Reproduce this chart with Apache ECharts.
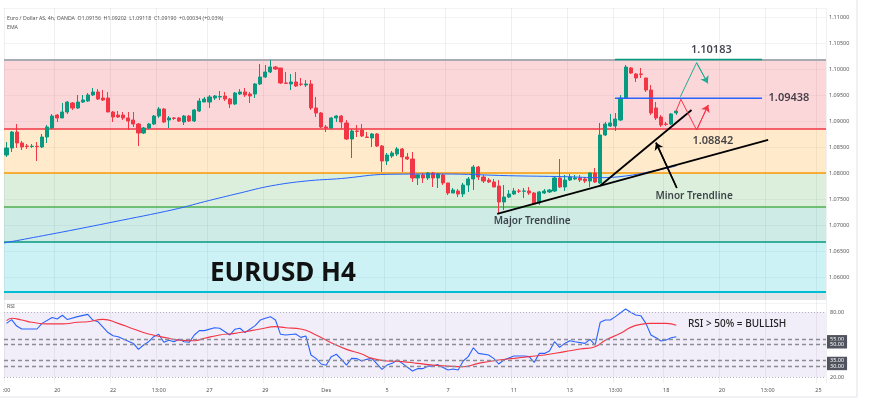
<!DOCTYPE html>
<html><head><meta charset="utf-8">
<script src="https://cdn.jsdelivr.net/npm/echarts@6/dist/echarts.min.js"></script>
<style>html,body{margin:0;padding:0;background:#fff}#c{width:870px;height:414px}</style>
</head><body><div id="c"></div>
<script>
// ---------- DATA ----------
const SLOTS = 162; // candle slots across the time axis (incl. future space)
const tickLabels = [[0,':00'],[10,'20'],[21,'22'],[30,'13:00'],[40,'27'],[51,'29'],[63,'Des'],[75,'5'],[87,'7'],[100,'11'],[111,'13'],[120,'13:00'],[130,'18'],[141,'20'],[150,'13:00'],[160,'25']];
// [open, close, low, high]
const candles = [
[1.08346,1.08481,1.08308,1.08596],[1.08481,1.08788,1.08404,1.08808],[1.08788,1.08577,1.08481,1.08942],[1.08577,1.08500,1.08442,1.08615],
[1.08519,1.08510,1.08462,1.08558],[1.08510,1.08515,1.08481,1.08558],[1.08515,1.08505,1.08231,1.08596],[1.08500,1.08692,1.08481,1.08750],
[1.08692,1.08885,1.08577,1.08923],[1.08865,1.09096,1.08846,1.09135],[1.09115,1.09058,1.08981,1.09135],[1.09058,1.09173,1.09058,1.09346],
[1.09173,1.09365,1.09135,1.09385],[1.09346,1.09250,1.09212,1.09365],[1.09250,1.09365,1.09231,1.09500],[1.09365,1.09404,1.09346,1.09500],
[1.09385,1.09500,1.09365,1.09538],[1.09500,1.09558,1.09481,1.09635],[1.09558,1.09423,1.09404,1.09615],[1.09442,1.09404,1.09385,1.09596],
[1.09442,1.09173,1.09173,1.09558],[1.09173,1.09077,1.08981,1.09192],[1.09115,1.09077,1.09058,1.09192],[1.09115,1.09058,1.09019,1.09173],
[1.09058,1.09000,1.08827,1.09173],[1.09019,1.08942,1.08885,1.09173],[1.08942,1.08769,1.08519,1.08962],[1.08769,1.08865,1.08750,1.08885],
[1.08865,1.08942,1.08846,1.08962],[1.08942,1.09096,1.08923,1.09115],[1.09096,1.09231,1.09058,1.09269],[1.09231,1.08981,1.08962,1.09250],
[1.09019,1.09058,1.08865,1.09096],[1.09058,1.09050,1.09019,1.09077],[1.09058,1.09000,1.08981,1.09077],[1.08981,1.09096,1.08923,1.09115],
[1.09096,1.09000,1.08981,1.09115],[1.09000,1.09212,1.08981,1.09231],[1.09192,1.09385,1.09173,1.09442],[1.09365,1.09423,1.09365,1.09462],
[1.09365,1.09462,1.09250,1.09500],[1.09442,1.09481,1.09404,1.09500],[1.09462,1.09470,1.09404,1.09577],[1.09481,1.09423,1.09385,1.09558],
[1.09423,1.09327,1.09250,1.09442],[1.09327,1.09538,1.09308,1.09558],[1.09519,1.09558,1.09500,1.09615],[1.09558,1.09500,1.09462,1.09635],
[1.09519,1.09481,1.09346,1.09558],[1.09519,1.09712,1.09442,1.09731],[1.09712,1.09846,1.09692,1.10096],[1.09846,1.09942,1.09827,1.10077],
[1.09942,1.10038,1.09923,1.10173],[1.10038,1.10000,1.09981,1.10058],[1.10019,1.09731,1.09712,1.10019],[1.09731,1.09725,1.09712,1.09942],
[1.09712,1.09750,1.09596,1.09904],[1.09750,1.09673,1.09654,1.09942],[1.09712,1.09705,1.09673,1.09827],[1.09692,1.09712,1.09654,1.09788],
[1.09712,1.09250,1.09212,1.09788],[1.09250,1.09154,1.09077,1.09462],[1.09154,1.08885,1.08865,1.09173],[1.08885,1.08865,1.08788,1.08923],
[1.08865,1.09058,1.08846,1.09077],[1.09058,1.09096,1.08981,1.09115],[1.09096,1.08981,1.08846,1.09115],[1.08962,1.08654,1.08635,1.09019],
[1.08654,1.08808,1.08288,1.08846],[1.08808,1.08800,1.08692,1.08923],[1.08827,1.08712,1.08692,1.08942],[1.08692,1.08685,1.08673,1.08788],
[1.08673,1.08750,1.08500,1.08769],[1.08750,1.08519,1.08500,1.08769],[1.08519,1.08231,1.08019,1.08538],[1.08231,1.08346,1.08154,1.08385],
[1.08327,1.08385,1.08288,1.08423],[1.08365,1.08462,1.08327,1.08500],[1.08462,1.08308,1.08019,1.08481],[1.08308,1.08269,1.08250,1.08385],
[1.08269,1.07904,1.07827,1.08404],[1.07904,1.07962,1.07769,1.07981],[1.07962,1.07904,1.07808,1.08000],[1.07904,1.08000,1.07865,1.08019],
[1.08000,1.07904,1.07731,1.08019],[1.07904,1.07981,1.07712,1.08000],[1.07962,1.07808,1.07769,1.07981],[1.07808,1.07615,1.07577,1.07808],
[1.07615,1.07673,1.07615,1.07712],[1.07654,1.07596,1.07538,1.07692],[1.07596,1.07769,1.07538,1.07808],[1.07769,1.07885,1.07635,1.07923],
[1.07885,1.08115,1.07673,1.08154],[1.08115,1.07923,1.07865,1.08135],[1.07923,1.07846,1.07808,1.07962],[1.07865,1.07827,1.07808,1.07904],
[1.07827,1.07731,1.07731,1.07885],[1.07750,1.07442,1.07231,1.07865],[1.07442,1.07538,1.07288,1.07769],[1.07538,1.07596,1.07519,1.07673],
[1.07596,1.07654,1.07577,1.07712],[1.07654,1.07650,1.07615,1.07692],[1.07650,1.07654,1.07519,1.07712],[1.07654,1.07615,1.07577,1.07731],
[1.07615,1.07404,1.07385,1.07635],[1.07423,1.07635,1.07385,1.07654],[1.07615,1.07654,1.07596,1.07692],[1.07635,1.07673,1.07615,1.07692],
[1.07654,1.07904,1.07635,1.07923],[1.07904,1.07731,1.07712,1.08269],[1.07731,1.07865,1.07654,1.07962],[1.07865,1.07923,1.07846,1.07981],
[1.07885,1.07904,1.07865,1.07962],[1.07904,1.07865,1.07827,1.07962],[1.07885,1.07846,1.07808,1.07923],[1.07846,1.08000,1.07731,1.08019],
[1.08000,1.07827,1.07808,1.08096],[1.07808,1.08731,1.07788,1.08962],[1.08731,1.08942,1.08712,1.08981],[1.08904,1.08962,1.08885,1.09135],
[1.08904,1.09038,1.08808,1.09154],[1.09019,1.09442,1.09000,1.09500],[1.09442,1.10038,1.09423,1.10077],[1.10019,1.09923,1.09904,1.10038],
[1.09904,1.09827,1.09750,1.09923],[1.09904,1.09897,1.09827,1.10019],[1.09827,1.09596,1.09558,1.09827],[1.09596,1.09154,1.09115,1.09692],
[1.09250,1.09058,1.09019,1.09365],[1.09077,1.08923,1.08885,1.09115],[1.08942,1.08935,1.08904,1.08981],[1.08942,1.09135,1.08923,1.09154],
[1.09156,1.09190,1.09118,1.09202]
];
const emaPoints = [[-0.5,1.06654],[11,1.06865],[21,1.07058],[33,1.07298],[39,1.07448],[46,1.07615],[52,1.07750],[59,1.07846],[66,1.07894],[75,1.07975],[86,1.07981],[99,1.07948],[110,1.07929],[117,1.07910],[122,1.07942],[127,1.08029],[132,1.08135]];
const rsiPoints = [[0,69.5],[1,73],[2,67],[3,64.3],[6,64.3],[7,69.5],[9,75],[10,73.5],[11,77],[12,73],[14,75.7],[16,77.8],[17,72.6],[18,71],[20,61],[21,58],[22,57.2],[23,55],[25,51],[26,45.5],[27,49.5],[28,52.6],[29,57.2],[30,59.4],[31,52],[32,54],[33,52.6],[34,54.8],[35,52.6],[36,52],[37,58.8],[38,62.8],[39,62.8],[41,65.5],[42,65],[44,58.8],[45,64],[46,65],[47,61],[49,67.4],[50,72.6],[51,74.2],[52,75.7],[53,72.6],[54,59.4],[55,58.8],[57,59.7],[58,56.6],[59,57.8],[60,40.3],[61,37.2],[62,32],[63,30.8],[64,38.8],[65,41],[66,36.3],[67,31],[68,37.2],[69,37],[70,34.8],[71,36.3],[72,37.2],[74,27],[75,31],[76,32.6],[77,35.7],[78,32.6],[80,25.5],[81,27.7],[82,27.7],[83,30],[84,30],[85,31.4],[87,26.5],[88,27.4],[89,26.5],[90,34.8],[91,38.8],[92,47],[93,41.8],[95,40.3],[96,37.2],[97,32],[98,35.7],[100,39.4],[102,39.4],[103,38.8],[104,33.5],[105,41.8],[106,41.8],[107,44],[108,52.6],[109,47.4],[110,51],[111,53.5],[112,52.6],[114,51],[115,54.8],[116,49.5],[117,70.5],[118,72.6],[119,72.6],[120,75.7],[122,82.8],[123,79.7],[124,77.2],[125,76.6],[126,69.5],[127,58.8],[128,56.3],[129,53.2],[130,54.2],[131,56.3],[132,57.2]];
const rsiMaPoints = [[0,72],[1,74.2],[3,72.6],[5,70.5],[8,69],[11,69],[14,70.5],[16,71],[19,73.2],[22,69.5],[25,64.3],[28,59.7],[32,55.7],[34,54],[37,53.5],[39,55.7],[42,58.8],[45,60.3],[47,61.8],[50,64.3],[53,66.5],[55,65.5],[58,64.3],[61,58.8],[64,51.7],[67,45.5],[70,41.2],[72,37.2],[75,34.8],[78,34.2],[81,32.6],[84,31],[87,30],[90,29.5],[93,32.6],[97,35.7],[100,37.2],[103,38.8],[106,40.3],[110,43.4],[113,45.8],[116,48],[118,54],[121,60.3],[123,65.8],[125,68.6],[127,69.5],[130,69.5],[132,67.7]];
const fibLevels = [1.10183, 1.08842, 1.08012, 1.07342, 1.06671, 1.05717, 1.0556];
const targetLevels = [[1.10183, 119.9, 148.9, '#089981'], [1.09438, 119.9, 148.9, '#2962ff']];
const majorTrend = [[96.7, 1.07212], [150.1, 1.08635]];
const minorTrend = [[117.0, 1.07756], [135.0, 1.09212]];
const minorPointer = [[132.1, 1.07712], [128.0, 1.08583]];
const bullPath = [[132.8, 1.09467], [136.0, 1.10121], [138.2, 1.09725]];
const bearPath = [[131.9, 1.09179], [132.9, 1.09417], [136.0, 1.08827], [138.3, 1.09308]];
const annotationTexts = [['1.10183', 138.9, 1.10365, 11], ['1.09438', 154.2, 1.09438, 11], ['1.08842', 139.2, 1.08615, 11], ['Major Trendline', 103.6, 1.07077, 10], ['Minor Trendline', 135.5, 1.07558, 10]];
const rsiLevels = [[80,'dotted',false],[60,'none',false],[40,'none',false],[20,'dotted',false],[55,'dash',true],[50,'dash',true],[35,'dash',true],[30,'dash',true]];
const lastPrice = 1.09190, countdown = '03:01:53';
const header = 'Euro / Dollar AS, 4h, OANDA  O1.09156  H1.09202  L1.09118  C1.09190  +0.00034 (+0.03%)';

// ---------- CHART ----------
const FONT = 'Noto Sans, sans-serif';
const labelMap = {}; tickLabels.forEach(([i, t]) => labelMap[i] = t);
const slots = Array.from({length: SLOTS}, (_, i) => String(i));
const showTick = (idx) => labelMap[idx] !== undefined;
const fibLineColors = ['#a9abb2', '#f23645', '#ff9800', '#4caf50', '#089981', '#00bcd4'];
const fibLineWidths = [2, 1.5, 1.5, 1.5, 1.5, 2];
const bandColors = ['rgba(242,54,69,0.2)', 'rgba(255,152,0,0.2)', 'rgba(76,175,80,0.2)', 'rgba(8,153,129,0.2)', 'rgba(0,188,212,0.2)', 'rgba(120,123,134,0.2)'];
const vGrid = {show: true, interval: showTick, lineStyle: {color: 'rgba(42,46,57,0.07)', width: 1}};

function segSeries(points, color, width, arrow) {
  const s = {type: 'line', xAxisIndex: 1, yAxisIndex: 0, data: points, symbol: 'none', z: 6,
    lineStyle: {color, width}, silent: true};
  if (arrow) {
    const a = points[points.length - 2], b = points[points.length - 1];
    s.markLine = {silent: true, precision: 6, symbol: ['none', 'arrow'], symbolSize: 7, label: {show: false},
      lineStyle: {color, width, type: 'solid'},
      data: [[{coord: a}, {coord: b}]]};
  }
  return s;
}

const series = [
  { // Fibonacci bands
    type: 'line', xAxisIndex: 1, yAxisIndex: 0, z: 1, symbol: 'none', silent: true,
    data: [[-0.5, fibLevels[0]], [SLOTS - 0.5, fibLevels[0]]], lineStyle: {opacity: 0},
    markArea: {silent: true, data: bandColors.map((c, k) => [{yAxis: fibLevels[k], itemStyle: {color: c}}, {yAxis: fibLevels[k + 1]}])}
  },
  { // Fibonacci level lines (drawn above the bands)
    type: 'line', xAxisIndex: 1, yAxisIndex: 0, z: 2, symbol: 'none', silent: true,
    data: [[-0.5, fibLevels[0]], [SLOTS - 0.5, fibLevels[0]]], lineStyle: {opacity: 0},
    markLine: {silent: true, precision: 6, symbol: 'none', label: {show: false}, z: 2,
      data: fibLineColors.map((c, k) => ({yAxis: fibLevels[k], lineStyle: {color: c, width: fibLineWidths[k], type: 'solid', opacity: 1}}))}
  },
  {
    type: 'candlestick', xAxisIndex: 0, yAxisIndex: 0, z: 3, data: candles, barWidth: 3.6,
    itemStyle: {color: '#089981', color0: '#f23645', borderColor: '#089981', borderColor0: '#f23645', borderWidth: 1},
    markLine: {silent: true, precision: 6, symbol: 'none',
      data: [{yAxis: lastPrice, lineStyle: {opacity: 0},
        label: {show: true, position: 'end', distance: 1, formatter: lastPrice.toFixed(5) + '\n' + countdown,
          backgroundColor: '#089981', color: '#fff', fontSize: 5.5, lineHeight: 6, padding: [1, 3], fontFamily: FONT, offset: [0, 3]}}]}
  },
  {type: 'line', xAxisIndex: 1, yAxisIndex: 0, z: 4, data: emaPoints, smooth: 0.4, symbol: 'none', silent: true,
    lineStyle: {color: '#2962ff', width: 1}},
  ...targetLevels.map(([v, a, b, c]) => segSeries([[a, v], [b, v]], c, 1.5, false)),
  segSeries(majorTrend, '#000', 1.8, false),
  segSeries(minorTrend, '#000', 1.8, false),
  segSeries(minorPointer, '#000', 1.5, true),
  segSeries(bullPath, '#22ab94', 1, true),
  segSeries(bearPath, '#f23645', 1, true),
  {type: 'scatter', xAxisIndex: 1, yAxisIndex: 0, z: 7, symbolSize: 1, silent: true, itemStyle: {color: 'transparent'},
    data: annotationTexts.map(([t, x, y, fs]) => ({value: [x, y],
      label: {show: true, position: 'inside', formatter: t, fontSize: fs, fontWeight: 600, color: '#131722', fontFamily: FONT}}))},
  { // RSI
    type: 'line', xAxisIndex: 3, yAxisIndex: 1, z: 3, data: rsiPoints, symbol: 'none', silent: true,
    lineStyle: {color: '#2962ff', width: 1.1},
    markArea: {silent: true, data: [[{yAxis: 80, itemStyle: {color: 'rgba(126,87,194,0.1)'}}, {yAxis: 20}]]},
    markLine: {silent: true, precision: 4, symbol: 'none',
      data: rsiLevels.map(([v, kind, boxed]) => ({yAxis: v,
        lineStyle: kind === 'none' ? {opacity: 0} : kind === 'dotted' ? {color: '#b2b5be', width: 1, type: [1, 2]} : {color: '#8a8d96', width: 1.3, type: [4, 3]},
        label: boxed ? {show: true, position: 'end', distance: 1, formatter: v.toFixed(2), fontSize: 5.5, color: '#fff', backgroundColor: '#50535e', padding: [1, 3], fontFamily: FONT}
                     : {show: true, position: 'end', distance: 4, formatter: v.toFixed(2), fontSize: 5.5, color: '#555', fontFamily: FONT}}))}
  },
  {type: 'line', xAxisIndex: 3, yAxisIndex: 1, z: 4, data: rsiMaPoints, smooth: 0.5, symbol: 'none', silent: true,
    lineStyle: {color: '#f23645', width: 1.1}}
];

const txt = (text, left, top, size, extra) => ({text, left, top, padding: 0,
  textStyle: Object.assign({fontSize: size, fontWeight: 'normal', color: '#555', fontFamily: FONT}, extra || {})});

const option = {
  animation: false,
  backgroundColor: '#fff',
  title: [
    txt(header, 7, 16, 5.2),
    txt('EMA', 7, 25, 5.2),
    txt('RSI', 7, 304, 5.2),
    txt('EURUSD H4', 210, 261, 26, {fontWeight: 'bold', color: '#111'}),
    txt('RSI > 50% = BULLISH', 688, 319, 10, {color: '#222', fontWeight: 500})
  ],
  grid: [
    {left: 4, right: 44, top: 8, bottom: 111, outerBoundsMode: 'none'},
    {left: 4, right: 44, top: 303, bottom: 31, outerBoundsMode: 'none'},
    {left: -5, top: -5, right: 13, bottom: 17, show: true, borderColor: '#e0e3eb', borderWidth: 1, backgroundColor: 'transparent', outerBoundsMode: 'none'}
  ],
  xAxis: [
    {gridIndex: 0, type: 'category', data: slots, boundaryGap: true, axisLine: {show: false}, axisTick: {show: false}, axisLabel: {show: false}, splitLine: vGrid},
    {gridIndex: 0, type: 'value', min: -0.5, max: SLOTS - 0.5, show: false},
    {gridIndex: 1, type: 'category', data: slots, boundaryGap: true, axisLine: {show: false}, axisTick: {show: false},
      axisLabel: {interval: showTick, formatter: (v, i) => labelMap[i] || '', fontSize: 5.5, color: '#555', margin: 4, fontFamily: FONT}, splitLine: vGrid},
    {gridIndex: 1, type: 'value', min: -0.5, max: SLOTS - 0.5, show: false},
    {gridIndex: 2, type: 'value', show: false}
  ],
  yAxis: [
    {gridIndex: 0, type: 'value', position: 'right', min: 1.055, max: 1.11173, interval: 0.005,
      axisLine: {show: false}, axisTick: {show: false},
      axisLabel: {formatter: v => v.toFixed(5), fontSize: 5.5, color: '#555', margin: 3, showMinLabel: false, showMaxLabel: false, fontFamily: FONT},
      splitLine: {show: true, lineStyle: {color: 'rgba(42,46,57,0.05)'}}},
    {gridIndex: 1, type: 'value', min: 14.46, max: 88.3, axisLine: {show: false}, axisTick: {show: false}, axisLabel: {show: false}, splitLine: {show: false}},
    {gridIndex: 2, type: 'value', show: false}
  ],
  series
};
echarts.init(document.getElementById('c'), null, {renderer: 'canvas'}).setOption(option);
</script></body></html>
